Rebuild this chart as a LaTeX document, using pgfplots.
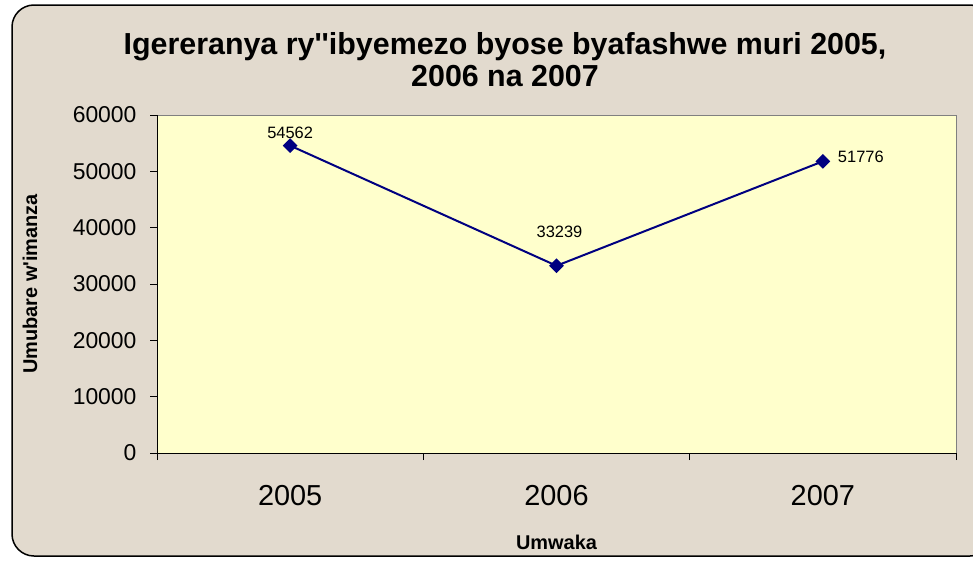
\documentclass[border=0pt]{standalone}
\usepackage{pgfplots}
\pgfplotsset{compat=1.18}
\usepackage{fontspec}
\setmainfont{Liberation Sans}[Ligatures=TeXOff]
\definecolor{bgc}{RGB}{226,218,206}
\definecolor{plotc}{RGB}{255,255,204}
\definecolor{navyc}{RGB}{0,0,128}
\begin{document}
\begin{tikzpicture}
\useasboundingbox (0,0) rectangle (973bp,-561bp);
\fill[white] (0,0) rectangle (973bp,-561bp);
\begin{scope}
\clip (0,0) rectangle (973bp,-561bp);
\draw[line width=1.5bp, fill=bgc, rounded corners=22bp] (12bp,-5bp) rectangle (992bp,-556bp);
\end{scope}
\node[font=\fontsize{30.5}{32}\selectfont\bfseries, align=center] at (505bp,-60bp) {Igereranya ry''ibyemezo byose byafashwe muri 2005,\\2006 na 2007};
\begin{axis}[
  at={(157bp,-453bp)}, anchor=south west,
  scale only axis, width=799bp, height=338bp,
  xmin=-0.5, xmax=2.5, ymin=0, ymax=60000,
  clip=false,
  axis background/.style={fill=plotc},
  axis line style={draw=gray, line width=1bp},
  tick pos=left,
  xtick={0,1,2}, xticklabels={2005,2006,2007},
  xtick style={draw=none},
  extra x ticks={-0.5,0.5,1.5,2.5}, extra x tick labels={},
  extra x tick style={xtick style={draw=black, line width=1bp}, major tick length=7bp, tick align=outside},
  ytick={0,10000,20000,30000,40000,50000,60000},
  ytick style={draw=black, line width=1bp},
  major tick length=7bp, tick align=outside,
  scaled ticks=false,
  /pgf/number format/1000 sep={},
  /pgf/number format/assume math mode=true,
  yticklabel style={font=\fontsize{23}{26}\selectfont, xshift=-10bp},
  xticklabel style={font=\fontsize{29}{34}\selectfont, yshift=-22bp},
  xlabel={Umwaka},
  ylabel={Umubare w'imanza},
  xlabel style={font=\bfseries\fontsize{20}{24}\selectfont, at={(axis description cs:0.5,-0.263)}, anchor=center},
  ylabel style={font=\bfseries\fontsize{20}{24}\selectfont, at={(axis description cs:-0.159,0.5)}, anchor=center},
]
\addplot[navyc, line width=2bp, mark=square*, mark size=4.2bp, mark options={rotate=45, solid, fill=navyc}]
  coordinates {(0,54562) (1,33239) (2,51776)};
\draw[black, line width=1bp] (rel axis cs:0,1) -- (rel axis cs:0,0) -- (rel axis cs:1,0);
\node[font=\fontsize{16.5}{20}\selectfont, yshift=12.5bp] at (axis cs:0,54562) {54562};
\node[font=\fontsize{16.5}{20}\selectfont, yshift=34bp, xshift=3bp] at (axis cs:1,33239) {33239};
\node[font=\fontsize{16.5}{20}\selectfont, yshift=4bp, xshift=38bp] at (axis cs:2,51776) {51776};
\end{axis}
\end{tikzpicture}
\end{document}
